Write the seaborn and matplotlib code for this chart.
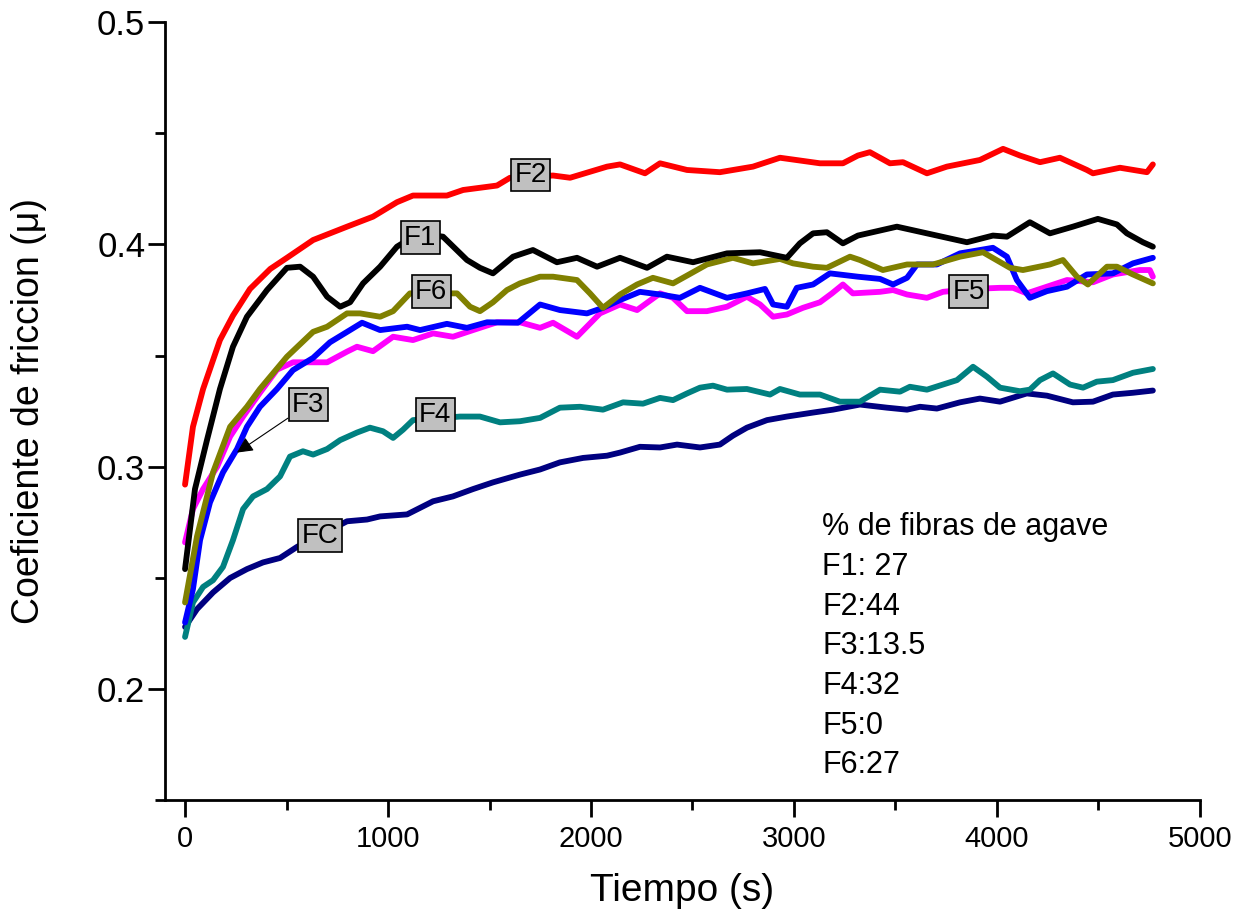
import pandas as pd
import seaborn as sns
import matplotlib.pyplot as plt
from matplotlib.ticker import MultipleLocator, FormatStrFormatter

# Curvas de coeficiente de friccion
t_f2 = [0, 39, 89, 172, 236, 320, 420, 502, 631, 798, 926, 1044, 1123, 1290, 1370, 1537, 1601, 1813,
        1897, 2079, 2143, 2266, 2340, 2473, 2635, 2798, 2931, 3128, 3241, 3315, 3374, 3473, 3537, 3655,
        3753, 3916, 4030, 4113, 4212, 4310, 4443, 4473, 4606, 4739, 4768]
mu_f2 = [0.292, 0.318, 0.335, 0.357, 0.368, 0.380, 0.389, 0.394, 0.402, 0.408, 0.4125, 0.419, 0.422,
         0.422, 0.4245, 0.4265, 0.430, 0.431, 0.430, 0.435, 0.436, 0.432, 0.4365, 0.4335, 0.4325, 0.435,
         0.439, 0.4365, 0.4365, 0.440, 0.4415, 0.4365, 0.437, 0.432, 0.435, 0.438, 0.443, 0.440, 0.437,
         0.439, 0.4335, 0.432, 0.4345, 0.4325, 0.436]

t_f1 = [0, 49, 108, 172, 236, 305, 404, 502, 567, 631, 700, 764, 813, 877, 961, 1044, 1150, 1271, 1389,
        1453, 1517, 1616, 1714, 1832, 1931, 2030, 2143, 2276, 2374, 2503, 2670, 2833, 2965, 3029, 3094,
        3162, 3241, 3315, 3507, 3655, 3852, 3980, 4049, 4162, 4261, 4374, 4497, 4591, 4640, 4719, 4768]
mu_f1 = [0.254, 0.290, 0.312, 0.335, 0.354, 0.3675, 0.3795, 0.3895, 0.390, 0.3855, 0.3765, 0.372, 0.374,
         0.3825, 0.390, 0.399, 0.405, 0.4035, 0.393, 0.3895, 0.387, 0.3945, 0.3975, 0.392, 0.394, 0.390,
         0.394, 0.3895, 0.3945, 0.392, 0.396, 0.3965, 0.394, 0.4005, 0.405, 0.4055, 0.4005, 0.404, 0.408,
         0.405, 0.401, 0.404, 0.4035, 0.410, 0.405, 0.408, 0.4115, 0.409, 0.405, 0.401, 0.399]

t_f6 = [0, 59, 138, 222, 305, 369, 502, 631, 700, 798, 862, 961, 1025, 1108, 1340, 1404, 1453, 1517, 1586,
        1650, 1749, 1813, 1931, 1995, 2059, 2143, 2227, 2305, 2404, 2473, 2571, 2699, 2798, 2931, 2995,
        3094, 3162, 3276, 3325, 3438, 3557, 3685, 3818, 3931, 4064, 4128, 4261, 4325, 4394, 4448, 4542,
        4591, 4670, 4768]
mu_f6 = [0.239, 0.2687, 0.2975, 0.318, 0.327, 0.335, 0.3495, 0.3607, 0.363, 0.369, 0.369, 0.3675, 0.370,
         0.378, 0.378, 0.372, 0.370, 0.374, 0.3795, 0.3825, 0.3855, 0.3855, 0.384, 0.378, 0.3715, 0.3775,
         0.382, 0.385, 0.3825, 0.386, 0.391, 0.394, 0.3915, 0.3935, 0.3915, 0.390, 0.3895, 0.3945, 0.393,
         0.3885, 0.391, 0.391, 0.3945, 0.3965, 0.3895, 0.3885, 0.391, 0.393, 0.3855, 0.382, 0.390, 0.390,
         0.3865, 0.3825]

t_f3 = [0, 39, 74, 123, 187, 256, 305, 369, 453, 532, 631, 714, 813, 872, 961, 1094, 1158, 1290, 1389,
        1488, 1640, 1749, 1847, 1980, 2059, 2143, 2241, 2340, 2438, 2537, 2670, 2768, 2857, 2897, 2965,
        3014, 3094, 3177, 3315, 3424, 3488, 3557, 3606, 3704, 3818, 3916, 3980, 4049, 4098, 4162, 4246,
        4345, 4443, 4571, 4670, 4768]
mu_f3 = [0.230, 0.245, 0.267, 0.284, 0.2975, 0.308, 0.318, 0.327, 0.335, 0.3435, 0.349, 0.356, 0.3615,
         0.3648, 0.3615, 0.363, 0.3615, 0.3643, 0.3625, 0.365, 0.3648, 0.373, 0.3705, 0.369, 0.3715, 0.375,
         0.3787, 0.3775, 0.376, 0.3805, 0.376, 0.378, 0.380, 0.373, 0.372, 0.3805, 0.382, 0.387, 0.3855,
         0.3845, 0.382, 0.385, 0.391, 0.391, 0.396, 0.3975, 0.3985, 0.3945, 0.384, 0.376, 0.379, 0.381,
         0.3865, 0.387, 0.3915, 0.394]

t_f5 = [0, 39, 89, 158, 222, 286, 369, 453, 532, 631, 700, 798, 847, 926, 1025, 1123, 1222, 1320, 1419,
        1537, 1650, 1749, 1813, 1931, 2044, 2143, 2227, 2340, 2404, 2473, 2571, 2670, 2768, 2833, 2897,
        2965, 3044, 3128, 3187, 3241, 3290, 3424, 3488, 3557, 3655, 3734, 3880, 4015, 4079, 4147, 4246,
        4345, 4473, 4571, 4704, 4753, 4768]
mu_f5 = [0.266, 0.281, 0.290, 0.300, 0.3136, 0.3226, 0.3333, 0.3437, 0.347, 0.347, 0.347, 0.3518, 0.354,
         0.352, 0.3585, 0.357, 0.360, 0.3585, 0.3615, 0.365, 0.365, 0.3625, 0.3648, 0.3585, 0.369, 0.373,
         0.3705, 0.378, 0.376, 0.370, 0.370, 0.372, 0.3765, 0.373, 0.3675, 0.3685, 0.3715, 0.374, 0.378,
         0.382, 0.378, 0.3787, 0.3795, 0.3775, 0.376, 0.3787, 0.380, 0.3805, 0.3805, 0.378, 0.381, 0.384,
         0.383, 0.3865, 0.3885, 0.3885, 0.3855]

t_f4 = [0, 39, 89, 138, 187, 236, 286, 335, 404, 468, 517, 581, 631, 700, 764, 847, 911, 975, 1025, 1074,
        1123, 1355, 1453, 1552, 1650, 1749, 1847, 1946, 2059, 2158, 2256, 2340, 2404, 2473, 2537, 2601,
        2670, 2768, 2882, 2931, 3029, 3128, 3226, 3325, 3424, 3522, 3571, 3655, 3734, 3803, 3882, 3951,
        4015, 4113, 4162, 4212, 4276, 4360, 4424, 4492, 4571, 4670, 4768]
mu_f4 = [0.2235, 0.239, 0.246, 0.249, 0.255, 0.267, 0.281, 0.2867, 0.290, 0.2957, 0.3046, 0.307, 0.3055,
         0.308, 0.312, 0.3154, 0.3176, 0.316, 0.313, 0.3167, 0.321, 0.3226, 0.3226, 0.320, 0.3205, 0.322,
         0.3266, 0.327, 0.3257, 0.329, 0.3284, 0.331, 0.330, 0.333, 0.3356, 0.3365, 0.3347, 0.335, 0.3325,
         0.335, 0.3325, 0.3325, 0.3293, 0.3293, 0.3347, 0.3338, 0.336, 0.3347, 0.337, 0.339, 0.345, 0.3405,
         0.3356, 0.334, 0.3347, 0.339, 0.342, 0.337, 0.3356, 0.3383, 0.339, 0.3423, 0.344]

t_fc = [0, 59, 138, 222, 305, 384, 468, 552, 798, 897, 961, 1094, 1222, 1320, 1419, 1517, 1650, 1749,
        1847, 1961, 2079, 2143, 2241, 2340, 2424, 2537, 2635, 2699, 2768, 2867, 2965, 3094, 3192, 3325,
        3458, 3557, 3621, 3704, 3818, 3916, 4015, 4147, 4246, 4374, 4473, 4571, 4670, 4768]
mu_fc = [0.228, 0.236, 0.2435, 0.250, 0.254, 0.257, 0.259, 0.264, 0.2755, 0.2763, 0.2777, 0.2786, 0.2845,
         0.2867, 0.290, 0.293, 0.2965, 0.2988, 0.302, 0.304, 0.305, 0.3064, 0.309, 0.3087, 0.310, 0.3087,
         0.310, 0.314, 0.3176, 0.321, 0.3226, 0.3244, 0.3257, 0.328, 0.3266, 0.3257, 0.327, 0.3262, 0.329,
         0.3307, 0.3293, 0.333, 0.332, 0.329, 0.3293, 0.3325, 0.3333, 0.3343]

series = {'FC': (t_fc, mu_fc), 'F4': (t_f4, mu_f4), 'F5': (t_f5, mu_f5), 'F3': (t_f3, mu_f3),
          'F6': (t_f6, mu_f6), 'F1': (t_f1, mu_f1), 'F2': (t_f2, mu_f2)}
colores = {'FC': '#000080', 'F4': '#008080', 'F5': '#ff00ff', 'F3': '#0000ff',
           'F6': '#808000', 'F1': '#000000', 'F2': '#ff0000'}

# posiciones de las etiquetas (tiempo, mu)
etiquetas = {'F2': (1704, 0.4312), 'F1': (1158, 0.4030), 'F6': (1212, 0.3787), 'F3': (606, 0.3280),
             'F4': (1232, 0.3235), 'FC': (665, 0.2690), 'F5': (3862, 0.3787)}
flecha_f3 = (256, 0.3064)

leyenda = ['% de fibras de agave', 'F1: 27', 'F2:44', 'F3:13.5', 'F4:32', 'F5:0', 'F6:27']

data = pd.concat([pd.DataFrame({'Tiempo': t, 'mu': m, 'serie': k}) for k, (t, m) in series.items()])

sns.set_style('ticks')
plt.rcParams['font.family'] = ['Liberation Sans', 'DejaVu Sans']
plt.rcParams.update({'text.color': 'black', 'axes.labelcolor': 'black', 'axes.edgecolor': 'black',
                     'xtick.color': 'black', 'ytick.color': 'black'})

fig, ax = plt.subplots(figsize=(12.48, 9.21), dpi=100)
fig.subplots_adjust(left=0.132, right=0.9615, bottom=0.131, top=0.976)

sns.lineplot(data=data, x='Tiempo', y='mu', hue='serie', palette=colores, estimator=None, sort=False,
             linewidth=4.2, legend=False, ax=ax)

caja = dict(boxstyle='square,pad=0.12', fc='#c0c0c0', ec='black', lw=1.2)
for nombre, (xt, yt) in etiquetas.items():
    if nombre == 'F3':
        ax.annotate(nombre, xy=flecha_f3, xytext=(xt, yt), ha='center', va='center', fontsize=20,
                    bbox=caja, arrowprops=dict(arrowstyle='-|>', color='black', lw=0.8,
                                               mutation_scale=24, shrinkA=0, shrinkB=0), zorder=5)
    else:
        ax.text(xt, yt, nombre, ha='center', va='center', fontsize=20, bbox=caja, zorder=5)

ax.text(0.635, 0.37, '\n'.join(leyenda), transform=ax.transAxes, ha='left', va='top',
        fontsize=22, linespacing=1.42)

ax.set_xlim(-100, 5000)
ax.set_ylim(0.15, 0.5)
ax.xaxis.set_major_locator(MultipleLocator(1000))
ax.xaxis.set_minor_locator(MultipleLocator(500))
ax.yaxis.set_major_locator(MultipleLocator(0.1))
ax.yaxis.set_minor_locator(MultipleLocator(0.05))
ax.yaxis.set_major_formatter(FormatStrFormatter('%.1f'))
ax.tick_params(which='major', direction='out', length=12, width=2)
ax.tick_params(axis='x', labelsize=21, pad=6)
ax.tick_params(axis='y', labelsize=25, pad=2)
ax.tick_params(which='minor', direction='out', length=7, width=2)
for lado in ['left', 'bottom']:
    ax.spines[lado].set_linewidth(2)
sns.despine(ax=ax)

ax.set_xlabel('Tiempo (s)', fontsize=28, labelpad=14)
ax.set_ylabel('Coeficiente de friccion (\u03bc)', fontsize=27, labelpad=36)

plt.savefig('out.png', dpi=100)
